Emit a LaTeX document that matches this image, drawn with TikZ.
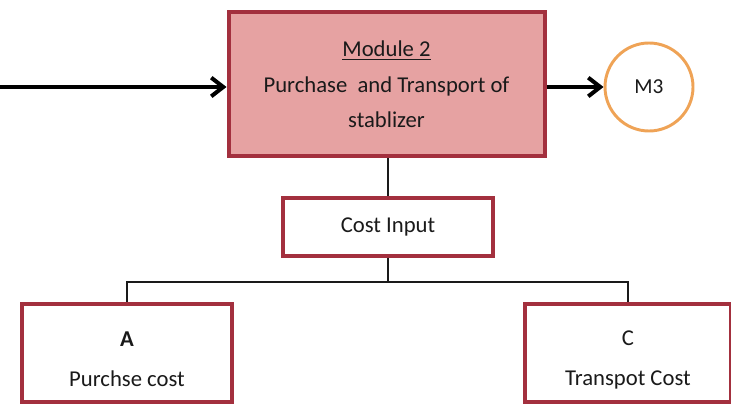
\documentclass[tikz,border=0pt]{standalone}
\usepackage{fontspec}
\setmainfont{Carlito}
\usetikzlibrary{arrows.meta}
\definecolor{boxred}{HTML}{A3303E}
\definecolor{modfill}{HTML}{E6A2A2}
\definecolor{ringorange}{HTML}{EFA356}
\definecolor{ink}{HTML}{1A1A1A}
\tikzset{
  modulebox/.style={draw=boxred, line width=3pt, fill=modfill, text=ink,
    minimum width=237pt, minimum height=108pt, align=center,
    font=\fontsize{17pt}{26.5pt}\selectfont},
  costbox/.style={draw=boxred, line width=3pt, fill=white, text=ink,
    align=center, font=\fontsize{17pt}{30pt}\selectfont},
  ring/.style={circle, draw=ringorange, line width=2.2pt, fill=white, text=ink,
    minimum size=66pt, inner sep=0pt, font=\fontsize{16pt}{18pt}\selectfont},
  flow/.style={line width=3.5pt, -{Straight Barb[length=9pt, width=14pt, line width=3pt]}},
  link/.style={line width=1.1pt, draw=ink}
}
\begin{document}
\begin{tikzpicture}[x=0.75pt, y=-0.75pt]
  \useasboundingbox (0,0) rectangle (731,406);

  % module and the next module marker
  \node[modulebox] (main) at (386.5,84.5)
    {\underline{Module 2}\\Purchase\ \ and Transport of\\stablizer};
  \node[ring] (m3) at (649,87) {M3};

  % cost breakdown
  \node[costbox, minimum width=157pt, minimum height=43pt] (cost) at (388,227) {Cost Input};
  \node[costbox, minimum width=157pt, minimum height=74pt] (A) at (127,353)
    {\textbf{A}\strut\\Purchse cost};
  \node[costbox, minimum width=154pt, minimum height=74pt] (C) at (628,353)
    {C\strut\\Transpot Cost};

  % flow arrows
  \coordinate (src) at (0,87);
  \draw[flow] (src) -- (src -| main.west);
  \draw[flow] (main.east |- m3) -- (m3.west);

  % tree connectors
  \coordinate (fork) at (388,282);
  \draw[link] (main.south -| cost.north) -- (cost.north);
  \draw[link] (cost.south) -- (fork);
  \draw[link] (A.north) |- (fork) -| (C.north);
\end{tikzpicture}
\end{document}
